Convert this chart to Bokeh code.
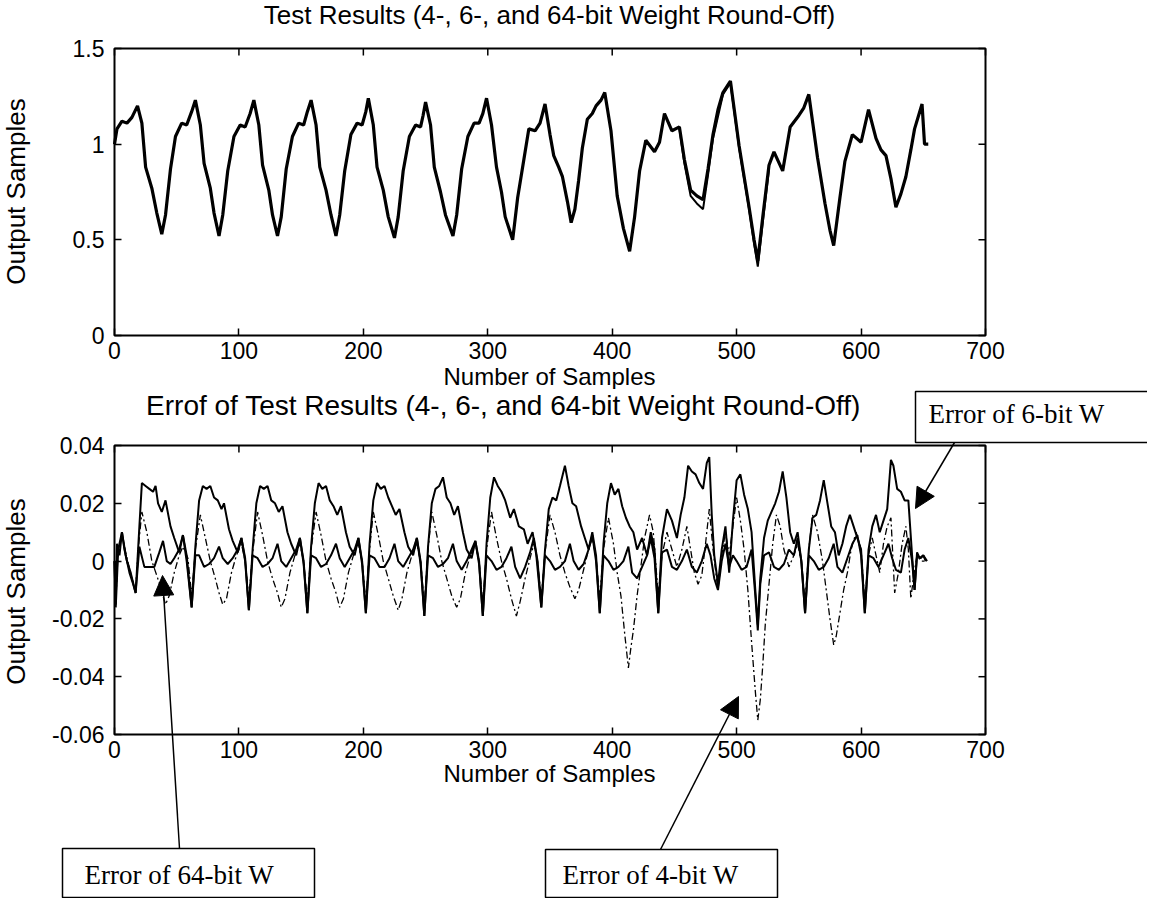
import math
from bokeh.plotting import figure
from bokeh.layouts import column
from bokeh.models import (LinearAxis, FixedTicker, Label, Arrow, NormalHead,
                          Range1d, CustomJSTickFormatter, ColumnDataSource)
from bokeh.embed import file_html
from bokeh.resources import INLINE

# ---------------- texts ----------------
TITLE_TOP = "Test Results (4-, 6-, and 64-bit Weight Round-Off)"
TITLE_BOTTOM = "Errof of Test Results (4-, 6-, and 64-bit Weight Round-Off)"
X_LABEL = "Number of Samples"
Y_LABEL = "Output Samples"
NOTE_6 = "Error of  6-bit W"
NOTE_64 = "Error of  64-bit W"
NOTE_4 = "Error of 4-bit W"

# ---------------- ticks ----------------
x_ticks = [0, 100, 200, 300, 400, 500, 600, 700]
x_tick_labels = ["0", "100", "200", "300", "400", "500", "600", "700"]
top_y_ticks = [0, 0.5, 1, 1.5]
top_y_tick_labels = ["0", "0.5", "1", "1.5"]
bot_y_ticks = [-0.06, -0.04, -0.02, 0, 0.02, 0.04]
bot_y_tick_labels = ["-0.06", "-0.04", "-0.02", "0", "0.02", "0.04"]

# ---------------- data (sample, value) ----------------
output_64bit = [
    (0, 1.00), (2, 1.08), (6, 1.12), (10, 1.11), (14, 1.14), (18.5, 1.20),
    (22, 1.11), (25, 0.88), (30, 0.77), (34, 0.64), (38, 0.53), (41, 0.63), (45, 0.87), (49, 1.04),
    (54, 1.11), (58, 1.10), (62, 1.17), (65, 1.23),
    (69, 1.10), (72, 0.90), (77, 0.77), (80, 0.64), (84, 0.52), (87, 0.63), (91, 0.86), (96, 1.04),
    (101, 1.10), (105, 1.09), (109, 1.16), (112, 1.23),
    (116, 1.10), (119, 0.89), (124, 0.76), (127, 0.63), (131, 0.52), (134, 0.62), (138, 0.87),
    (143, 1.04), (148, 1.11), (152, 1.10), (155, 1.17), (158, 1.23),
    (162, 1.10), (165, 0.88), (170, 0.76), (174, 0.63), (178, 0.52), (181, 0.63), (185, 0.86),
    (190, 1.05), (195, 1.11), (199, 1.10), (202, 1.17), (204, 1.24),
    (208, 1.10), (211, 0.88), (216, 0.76), (220, 0.62), (225, 0.51), (228, 0.62), (232, 0.86),
    (237, 1.04), (242, 1.10), (246, 1.09), (248, 1.15), (250, 1.22),
    (254, 1.10), (257, 0.88), (262, 0.75), (266, 0.63), (272, 0.52), (275, 0.63), (279, 0.87),
    (284, 1.04), (289, 1.11), (293, 1.11), (296, 1.16), (299, 1.24),
    (303, 1.10), (307, 0.88), (311, 0.75), (314, 0.62), (320, 0.50), (324, 0.72), (329, 0.92),
    (333, 1.08), (338, 1.07), (342, 1.11), (346, 1.21),
    (350, 1.05), (353, 0.94), (357, 0.88), (360, 0.83), (364, 0.70), (367, 0.59), (370, 0.66),
    (373, 0.81), (376, 0.98), (380, 1.13), (384, 1.16), (387, 1.20), (391, 1.23), (394, 1.27),
    (399, 1.07), (404, 0.73), (409, 0.56), (414, 0.44), (418, 0.62), (422, 0.86), (427, 1.02),
    (434, 0.96), (438, 1.01), (442, 1.16),
    (448, 1.07), (454, 1.09), (458, 0.92), (463, 0.76), (468, 0.73), (473, 0.71), (477, 0.87),
    (481, 1.05), (485, 1.18), (489, 1.27), (495, 1.33),
    (502, 0.99), (510, 0.67), (514, 0.50), (517, 0.39), (521, 0.62), (526, 0.89), (530, 0.96),
    (537, 0.86), (543, 1.09), (550, 1.15), (554, 1.19), (558, 1.26),
    (565, 0.93), (571, 0.69), (575, 0.55), (578, 0.47), (583, 0.72), (587, 0.91), (593, 1.05),
    (600, 1.01), (606, 1.18),
    (612, 1.03), (616, 0.97), (620, 0.94), (624, 0.82), (628, 0.67), (632, 0.74), (636, 0.83),
    (640, 0.97), (643, 1.08), (649, 1.21), (651, 1.00), (654, 1.00),
]

output_4bit_part = [
    (454, 1.08), (458, 0.90), (463, 0.73), (468, 0.69), (473, 0.66), (477, 0.84), (481, 1.03),
    (489, 1.26), (495, 1.32), (502, 0.98), (510, 0.66), (514, 0.48), (517, 0.36), (521, 0.59),
    (526, 0.87),
]

error_6bit = [
    (0, 0.000), (1, -0.015), (2, 0.006), (4, 0.002), (6, 0.010), (8, 0.004), (10, 0.000),
    (13, -0.004), (17, -0.011), (20, 0.012), (22, 0.027), (25, 0.026), (28, 0.025), (31, 0.024),
    (33, 0.026), (35, 0.020), (38, 0.017), (41, 0.021), (45, 0.012), (48, 0.008), (52, 0.003),
    (55, 0.009), (58, 0.002), (62, -0.016), (65, 0.005), (68, 0.021), (71, 0.026), (74, 0.025),
    (77, 0.026), (80, 0.022), (83, 0.021), (86, 0.018), (88, 0.020), (92, 0.011), (95, 0.007),
    (99, 0.003), (102, 0.008), (105, 0.001), (108, -0.017), (111, 0.004), (114, 0.020),
    (117, 0.026), (120, 0.025), (123, 0.026), (126, 0.021), (129, 0.020), (132, 0.017),
    (135, 0.019), (139, 0.010), (142, 0.006), (146, 0.002), (149, 0.008), (152, 0.000),
    (155, -0.018), (158, 0.005), (161, 0.020), (164, 0.027), (167, 0.025), (170, 0.026),
    (173, 0.021), (176, 0.019), (179, 0.016), (182, 0.019), (186, 0.010), (189, 0.005),
    (193, 0.002), (196, 0.008), (199, 0.000), (202, -0.018), (205, 0.006), (208, 0.021),
    (211, 0.027), (214, 0.025), (217, 0.026), (220, 0.022), (223, 0.019), (226, 0.016),
    (229, 0.018), (233, 0.010), (236, 0.005), (240, 0.002), (243, 0.008), (246, 0.000),
    (249, -0.019), (252, 0.005), (255, 0.020), (258, 0.025), (261, 0.026), (264, 0.029),
    (267, 0.022), (270, 0.020), (273, 0.016), (276, 0.019), (280, 0.010), (283, 0.004),
    (287, 0.001), (290, 0.007), (293, 0.000), (296, -0.019), (299, 0.006), (302, 0.022),
    (305, 0.029), (308, 0.026), (311, 0.024), (314, 0.021), (318, 0.015), (321, 0.018),
    (325, 0.012), (329, 0.011), (332, 0.006), (336, 0.010), (339, 0.002), (343, -0.016),
    (346, 0.004), (349, 0.018), (352, 0.022), (355, 0.021), (358, 0.026), (362, 0.033),
    (365, 0.026), (368, 0.020), (371, 0.019), (375, 0.012), (378, 0.008), (381, 0.004),
    (384, 0.010), (387, 0.002), (390, -0.018), (393, 0.006), (396, 0.020), (399, 0.027),
    (402, 0.023), (405, 0.025), (408, 0.019), (411, 0.015), (414, 0.012), (417, 0.010),
    (420, 0.004), (424, 0.008), (428, 0.002), (431, 0.010), (434, 0.004), (437, -0.018),
    (440, 0.008), (444, 0.018), (448, 0.014), (452, 0.008), (455, 0.016), (458, 0.022),
    (461, 0.033), (464, 0.031), (467, 0.030), (470, 0.027), (473, 0.025), (476, 0.034),
    (478, 0.036), (480, 0.016), (482, 0.002), (485, -0.008), (488, 0.004), (491, 0.012),
    (494, -0.004), (497, 0.014), (500, 0.028), (503, 0.030), (506, 0.023), (509, 0.018),
    (512, 0.010), (515, -0.010), (517, -0.022), (519, -0.006), (522, 0.008), (525, 0.014),
    (528, 0.017), (531, 0.020), (534, 0.024), (537, 0.031), (540, 0.022), (543, 0.010),
    (546, 0.006), (549, 0.010), (552, 0.000), (555, -0.018), (558, 0.004), (561, 0.015),
    (564, 0.016), (567, 0.021), (570, 0.028), (573, 0.020), (576, 0.012), (579, 0.010),
    (582, 0.002), (585, 0.006), (588, 0.012), (591, 0.016), (594, 0.012), (597, 0.008),
    (600, 0.004), (603, -0.018), (606, 0.004), (609, 0.012), (612, 0.016), (615, 0.010),
    (618, 0.014), (621, 0.018), (624, 0.035), (626, 0.033), (629, 0.025), (632, 0.024),
    (635, 0.021), (638, 0.021), (641, 0.002), (643, -0.010), (645, 0.003), (647, 0.001),
    (650, 0.002), (652, 0.000),
]

error_64bit = [
    (0, 0.000), (1, -0.016), (3, 0.004), (6, 0.010), (9, 0.002), (12, -0.004), (15, -0.008),
    (17, -0.011), (20, 0.005), (24, -0.002), (28, -0.002), (32, -0.002), (36, 0.003),
    (39, 0.007), (42, 0.000), (45, -0.001), (48, 0.001), (52, 0.004), (55, 0.009), (58, 0.000),
    (62, -0.016), (65, 0.002), (68, 0.002), (72, -0.002), (76, -0.001), (80, 0.001), (84, 0.005),
    (87, 0.001), (91, -0.001), (95, 0.001), (99, 0.004), (102, 0.008), (105, 0.000),
    (108, -0.017), (111, 0.002), (115, 0.001), (119, -0.002), (123, -0.001), (127, 0.001),
    (131, 0.006), (134, 0.000), (138, -0.002), (142, 0.001), (146, 0.004), (149, 0.008),
    (152, -0.001), (155, -0.018), (158, 0.002), (162, 0.001), (166, -0.002), (170, -0.001),
    (174, 0.002), (178, 0.006), (181, 0.001), (185, -0.002), (189, 0.001), (193, 0.004),
    (196, 0.008), (199, -0.001), (202, -0.018), (205, 0.002), (209, 0.001), (213, -0.002),
    (217, -0.002), (221, 0.001), (225, 0.006), (228, 0.000), (232, -0.002), (236, 0.001),
    (240, 0.004), (243, 0.008), (246, -0.001), (249, -0.019), (252, 0.002), (256, 0.001),
    (260, -0.002), (264, -0.001), (268, 0.001), (272, 0.006), (275, 0.000), (279, -0.003),
    (283, 0.000), (287, 0.004), (290, 0.007), (293, -0.001), (296, -0.019), (299, 0.002),
    (303, 0.000), (307, -0.003), (311, -0.002), (315, 0.001), (319, 0.005), (322, -0.002),
    (326, -0.006), (330, -0.002), (334, 0.003), (337, 0.008), (340, 0.000), (343, -0.016),
    (346, 0.002), (350, 0.000), (354, -0.003), (358, -0.002), (362, 0.000), (366, 0.006),
    (369, 0.000), (373, -0.003), (377, -0.001), (381, 0.004), (384, 0.009), (387, 0.000),
    (390, -0.018), (393, 0.002), (397, 0.000), (401, -0.003), (405, -0.002), (409, 0.000),
    (413, 0.005), (416, -0.004), (420, -0.006), (424, -0.002), (428, 0.002), (431, 0.008),
    (434, 0.001), (437, -0.018), (440, 0.003), (444, 0.004), (448, -0.002), (452, -0.003),
    (456, 0.000), (460, 0.004), (464, -0.002), (468, -0.004), (472, 0.000), (476, 0.006),
    (479, 0.002), (482, -0.006), (485, -0.010), (488, 0.000), (491, 0.006), (494, -0.002),
    (497, 0.002), (500, 0.000), (504, -0.003), (508, -0.002), (512, 0.004), (515, -0.012),
    (517, -0.024), (519, -0.008), (522, 0.002), (526, 0.003), (530, -0.002), (534, -0.003),
    (538, -0.001), (542, 0.004), (546, 0.002), (549, 0.008), (552, 0.000), (555, -0.018),
    (558, 0.002), (562, 0.000), (566, -0.003), (570, -0.002), (574, 0.001), (578, 0.006),
    (581, -0.002), (585, -0.004), (589, 0.001), (593, 0.006), (597, 0.009), (600, 0.002),
    (603, -0.018), (606, 0.002), (610, 0.001), (614, -0.002), (618, 0.002), (622, 0.006),
    (625, 0.001), (628, -0.003), (632, -0.004), (635, 0.004), (638, 0.008), (641, 0.000),
    (643, -0.010), (645, 0.002), (648, 0.001), (650, 0.002), (653, 0.000),
]

error_4bit = [
    (0, 0.000), (1, -0.014), (3, 0.004), (6, 0.009), (10, 0.001), (14, -0.006), (17, -0.010),
    (19, 0.004), (22, 0.017), (26, 0.010), (30, 0.000), (34, -0.005), (37, -0.009), (41, -0.015),
    (44, -0.012), (48, -0.004), (52, 0.002), (55, 0.005), (59, 0.001), (62, -0.012), (65, 0.004),
    (69, 0.016), (73, 0.008), (77, 0.000), (81, -0.006), (84, -0.011), (87, -0.015),
    (90, -0.013), (94, -0.004), (98, 0.002), (102, 0.006), (105, 0.000), (108, -0.013),
    (111, 0.003), (115, 0.017), (119, 0.009), (123, 0.000), (127, -0.006), (131, -0.011),
    (134, -0.016), (137, -0.013), (141, -0.004), (145, 0.002), (149, 0.006), (152, 0.000),
    (155, -0.014), (158, 0.004), (162, 0.017), (166, 0.009), (170, 0.000), (174, -0.006),
    (178, -0.011), (181, -0.016), (184, -0.013), (188, -0.004), (192, 0.002), (196, 0.006),
    (199, 0.000), (202, -0.014), (205, 0.004), (208, 0.017), (212, 0.009), (216, 0.000),
    (220, -0.006), (224, -0.012), (228, -0.017), (231, -0.013), (235, -0.004), (239, 0.002),
    (243, 0.006), (246, 0.000), (249, -0.015), (252, 0.004), (255, 0.017), (259, 0.009),
    (263, 0.000), (267, -0.006), (271, -0.012), (275, -0.016), (278, -0.013), (282, -0.004),
    (286, 0.002), (290, 0.006), (293, 0.000), (296, -0.015), (299, 0.004), (303, 0.017),
    (307, 0.008), (311, 0.000), (315, -0.006), (319, -0.013), (323, -0.019), (326, -0.014),
    (330, -0.006), (334, 0.001), (337, 0.006), (340, 0.000), (343, -0.013), (346, 0.003),
    (350, 0.016), (354, 0.010), (358, 0.002), (362, -0.004), (366, -0.009), (370, -0.013),
    (373, -0.010), (377, -0.003), (381, 0.004), (384, 0.008), (387, 0.001), (390, -0.013),
    (393, 0.004), (397, 0.015), (401, 0.006), (404, -0.004), (407, -0.012), (410, -0.025),
    (413, -0.037), (415, -0.030), (417, -0.024), (420, -0.012), (423, -0.002), (426, 0.008),
    (430, 0.016), (433, 0.010), (437, -0.012), (440, 0.002), (444, 0.010), (448, 0.004),
    (452, -0.002), (456, 0.004), (460, 0.012), (463, 0.004), (466, -0.004), (469, -0.008),
    (472, -0.005), (475, 0.006), (478, 0.018), (481, 0.004), (485, -0.010), (488, 0.002),
    (491, 0.010), (494, 0.002), (497, 0.012), (500, 0.022), (503, 0.014), (506, 0.004),
    (509, -0.010), (512, -0.028), (515, -0.045), (517, -0.055), (519, -0.048), (521, -0.036),
    (523, -0.022), (526, -0.008), (529, 0.006), (532, 0.016), (535, 0.012), (538, 0.004),
    (542, -0.002), (546, 0.002), (549, 0.006), (552, 0.000), (555, -0.014), (558, 0.004),
    (561, 0.016), (565, 0.010), (569, 0.000), (572, -0.010), (575, -0.020), (578, -0.029),
    (580, -0.026), (583, -0.018), (586, -0.010), (589, -0.004), (592, 0.004), (596, 0.010),
    (600, 0.004), (603, -0.014), (606, 0.002), (609, 0.008), (612, 0.002), (615, -0.004),
    (618, 0.006), (621, 0.012), (624, 0.015), (627, -0.011), (630, -0.004), (633, 0.006),
    (636, 0.012), (638, 0.004), (640, -0.013), (642, -0.006), (645, 0.002), (648, 0.000),
    (651, 0.000),
]

# ---------------- layout / style constants ----------------
AX_FONT = "Liberation Sans"
NOTE_FONT = "Liberation Serif"
TICK_SIZE = "23px"
XLABEL_SIZE = "24px"
YLABEL_SIZE = "26px"
TITLE_TOP_SIZE = "26px"
TITLE_BOTTOM_SIZE = "28px"
NOTE_SIZE = "27px"
TICK_PX = 7

PAGE_X0, PAGE_Y0 = 8, 8           # page margin
PAGE_W = 1147
TOP_H = 389
BOT_H = 509

# plot boxes in page pixels (both charts share the x mapping)
BOX_LEFT, BOX_RIGHT = 122, 993
X_MIN, X_MAX = 0, 700
PX_PER_X = (BOX_RIGHT - BOX_LEFT) / (X_MAX - X_MIN)

TOP_BOX_TOP, TOP_BOX_BOTTOM = 56, 343
TOP_YMIN, TOP_YMAX = 0, 1.5
TOP_PX_PER_Y = (TOP_BOX_BOTTOM - TOP_BOX_TOP) / (TOP_YMAX - TOP_YMIN)

BOT_BOX_TOP, BOT_BOX_BOTTOM = 453, 742
BOT_YMIN, BOT_YMAX = -0.06, 0.04
BOT_PX_PER_Y = (BOT_BOX_BOTTOM - BOT_BOX_TOP) / (BOT_YMAX - BOT_YMIN)


def gx(px):
    return X_MIN + (px - BOX_LEFT) / PX_PER_X


def ty(py):
    return TOP_YMAX - (py - TOP_BOX_TOP) / TOP_PX_PER_Y


def by(py):
    return BOT_YMAX - (py - BOT_BOX_TOP) / BOT_PX_PER_Y


def tick_formatter(tick_values, tick_texts):
    return CustomJSTickFormatter(args=dict(tv=tick_values, tl=tick_texts), code="""
        let best = 0, d = Infinity;
        for (let i = 0; i < tv.length; i++) {
            const e = Math.abs(tv[i] - tick);
            if (e < d) { d = e; best = i; }
        }
        return tl[best];
    """)


def styled_axis(ticks, labels, loc, standoff):
    ax = LinearAxis(ticker=FixedTicker(ticks=ticks), formatter=tick_formatter(ticks, labels),
                    fixed_location=loc)
    ax.major_tick_in = TICK_PX
    ax.major_tick_out = 0
    ax.minor_tick_line_color = None
    ax.major_tick_line_color = "black"
    ax.major_tick_line_width = 1.5
    ax.axis_line_color = None
    ax.major_label_text_font = AX_FONT
    ax.major_label_text_font_size = TICK_SIZE
    ax.major_label_text_color = "black"
    ax.major_label_standoff = standoff
    return ax


def text_label(x, y, text, size, font=AX_FONT, align="center", angle=0.0):
    return Label(x=x, y=y, text=text, text_font=font, text_font_size=size, text_color="black",
                 text_align=align, text_baseline="middle", angle=angle)


def make_chart(height, page_top, yfun, ymin, ymax, yticks, ylabels, px_per_y):
    # the whole canvas is plot area so texts and callouts can sit anywhere on it
    p = figure(width=PAGE_W, height=height,
               x_range=Range1d(gx(PAGE_X0), gx(PAGE_X0 + PAGE_W)),
               y_range=Range1d(yfun(page_top + height), yfun(page_top)),
               output_backend="svg", toolbar_location=None,
               x_axis_location=None, y_axis_location=None, min_border=0)
    p.grid.visible = False
    p.outline_line_color = None
    p.background_fill_color = "white"
    p.border_fill_color = "white"
    p.add_layout(styled_axis(x_ticks, x_tick_labels, ymin, 6), "below")
    p.add_layout(styled_axis(yticks, ylabels, X_MIN, 10), "left")
    # plot box with inward ticks on its top and right edges
    p.quad(left=[X_MIN], right=[X_MAX], bottom=[ymin], top=[ymax],
           fill_color=None, line_color="black", line_width=2)
    n, m = len(x_ticks), len(yticks)
    p.segment(x0=x_ticks, y0=[ymax] * n, x1=x_ticks, y1=[ymax - TICK_PX / px_per_y] * n,
              line_color="black", line_width=1.5)
    p.segment(x0=[X_MAX] * m, y0=yticks, x1=[X_MAX - TICK_PX / PX_PER_X] * m, y1=yticks,
              line_color="black", line_width=1.5)
    return p


# ---------------- top chart ----------------
p1 = make_chart(TOP_H, PAGE_Y0, ty, TOP_YMIN, TOP_YMAX, top_y_ticks, top_y_tick_labels,
                TOP_PX_PER_Y)
src_out = ColumnDataSource(dict(x=[a for a, b in output_64bit], y=[b for a, b in output_64bit]))
src_out4 = ColumnDataSource(dict(x=[a for a, b in output_4bit_part], y=[b for a, b in output_4bit_part]))
p1.line("x", "y", source=src_out, line_color="black", line_width=3.2)
p1.line("x", "y", source=src_out4, line_color="black", line_width=2)

p1.add_layout(text_label(gx(557), ty(22), TITLE_TOP, TITLE_TOP_SIZE))
p1.add_layout(text_label(gx(557), ty(383.5), X_LABEL, XLABEL_SIZE))
p1.add_layout(text_label(gx(23), ty(199), Y_LABEL, YLABEL_SIZE, angle=math.pi / 2))

# ---------------- bottom chart ----------------
BOT_TOP = PAGE_Y0 + TOP_H
p2 = make_chart(BOT_H, BOT_TOP, by, BOT_YMIN, BOT_YMAX, bot_y_ticks, bot_y_tick_labels,
                BOT_PX_PER_Y)
src_e4 = ColumnDataSource(dict(x=[a for a, b in error_4bit], y=[b for a, b in error_4bit]))
src_e64 = ColumnDataSource(dict(x=[a for a, b in error_64bit], y=[b for a, b in error_64bit]))
src_e6 = ColumnDataSource(dict(x=[a for a, b in error_6bit], y=[b for a, b in error_6bit]))
p2.line("x", "y", source=src_e4, line_color="black", line_width=1.3, line_dash="7 3 2 3")
p2.line("x", "y", source=src_e64, line_color="black", line_width=2)
p2.line("x", "y", source=src_e6, line_color="black", line_width=2)

p2.add_layout(text_label(gx(511), by(413), TITLE_BOTTOM, TITLE_BOTTOM_SIZE))
p2.add_layout(text_label(gx(557), by(781), X_LABEL, XLABEL_SIZE))
p2.add_layout(text_label(gx(23), by(599), Y_LABEL, YLABEL_SIZE, angle=math.pi / 2))

# callout boxes (layout positions in page pixels)
callouts = [
    # text, box left, box right, box top, box bottom, text left, text middle
    (NOTE_6, 923, 1156, 399, 450, 936, 421),
    (NOTE_64, 70, 322, 856, 905, 92, 882),
    (NOTE_4, 553, 785, 857, 905, 570, 882),
]
p2.quad(left=[gx(c[1]) for c in callouts], right=[gx(c[2]) for c in callouts],
        top=[by(c[3]) for c in callouts], bottom=[by(c[4]) for c in callouts],
        fill_color="white", line_color="black", line_width=1.5)
for c in callouts:
    p2.add_layout(text_label(gx(c[5]), by(c[6]), c[0], NOTE_SIZE, font=NOTE_FONT, align="left"))

arrows = [
    # start (page px), tip (page px)
    ((962, 450), (923, 516)),
    ((187, 856), (170, 583)),
    ((668, 857), (746, 704)),
]
for (sx, sy), (ex, ey) in arrows:
    p2.add_layout(Arrow(end=NormalHead(size=20, fill_color="black", line_color="black"),
                        x_start=gx(sx), y_start=by(sy), x_end=gx(ex), y_end=by(ey),
                        line_color="black", line_width=1.5))

layout = column(p1, p2, spacing=0)
open("out.html", "w").write(file_html(layout, INLINE))
